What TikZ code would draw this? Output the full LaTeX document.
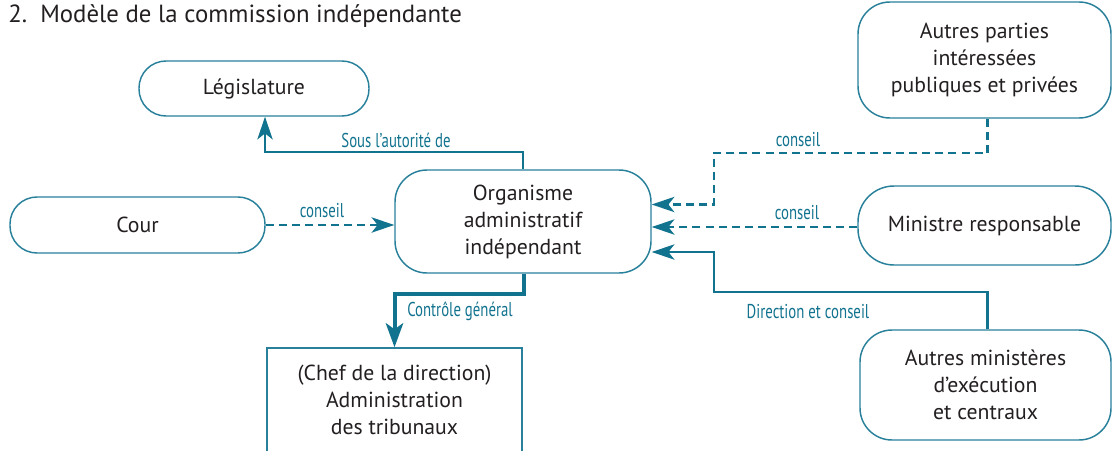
\documentclass[tikz,border=0pt]{standalone}
\usepackage{fontspec}
\setmainfont{PT Sans}
\newfontfamily\condfont{PT Sans}[FakeStretch=0.74]
\usetikzlibrary{arrows.meta,calc}
\definecolor{teal}{RGB}{18,115,143}
\definecolor{boxteal}{RGB}{40,128,155}
\definecolor{txt}{RGB}{35,31,32}
\tikzset{
  bx/.style={draw=boxteal, line width=1.1pt, align=center, text=txt, font=\fontsize{16.3}{20.3}\selectfont, inner sep=0pt},
  conn/.style={draw=teal, line width=1.6pt, -{Stealth[length=17pt,width=11.5pt,inset=4.5pt]}},
  dconn/.style={conn, dash pattern=on 6pt off 3.8pt},
  lbl/.style={text=teal, font=\condfont\fontsize{15}{17}\selectfont, inner sep=0pt}
}
\begin{document}
\begin{tikzpicture}[x=0.75pt,y=-0.75pt]
\clip (0,0) rectangle (1113,450);
\useasboundingbox (0,0) rectangle (1113,450);
\node[anchor=base west, text=txt, font=\fontsize{18.6}{22}\selectfont, inner sep=0pt] (title) at (8,22) {2.\ \ Modèle de la commission indépendante};

\node[bx, minimum width=230*0.75pt, minimum height=55*0.75pt, rounded corners=27*0.75pt] (leg) at (254,88.5) {Législature};
\node[bx, minimum width=255*0.75pt, minimum height=56*0.75pt, rounded corners=27*0.75pt] (cour) at (137.5,225) {Cour};
\node[bx, minimum width=256*0.75pt, minimum height=103*0.75pt, rounded corners=32*0.75pt] (org) at (523,221.5) {Organisme\\administratif\\indépendant};
\node[bx, rectangle, minimum width=255*0.75pt, minimum height=120*0.75pt] (chef) at (394.5,408) {};
\node[text=txt, font=\fontsize{16.3}{20.3}\selectfont, align=center, inner sep=0pt] (cheft) at (394.5,400) {(Chef de la direction)\\Administration\\des tribunaux};
\node[bx, minimum width=253*0.75pt, minimum height=116*0.75pt, rounded corners=32*0.75pt] (ap) at (984.5,60) {Autres parties\\intéressées\\publiques et privées};
\node[bx, minimum width=253*0.75pt, minimum height=79*0.75pt, rounded corners=36*0.75pt] (min) at (984.5,225.5) {Ministre responsable};
\node[bx, minimum width=251*0.75pt, minimum height=110*0.75pt, rounded corners=32*0.75pt] (am) at (985.5,385) {Autres ministères\\d’exécution\\et centraux};

% connectors
\draw[conn] (org.north) -- ++(0,-17) -| ([xshift=11*0.75pt]leg.south);
\draw[dconn] (cour.east) -- (org.west |- cour.east);
\coordinate (b1) at (714,153);
\draw[dconn] ([xshift=3*0.75pt]ap.south) |- (b1) |- ([yshift=17*0.75pt]org.east);
\coordinate (mw) at ([yshift=-1.5*0.75pt]min.west);
\draw[dconn] (mw) -- (org.east |- mw);
\coordinate (b2) at (714,292);
\draw[conn] ([xshift=2*0.75pt]am.north) |- (b2) |- ([yshift=-30.5*0.75pt]org.east);
\draw[conn, line width=3pt, -{Stealth[length=18pt,width=13pt,inset=4.5pt]}] ([xshift=1*0.75pt]org.south) -- ++(0,20) -| (chef.north);

% labels
\node[lbl] (l1) at (396,140) {Sous l’autorité de};
\node[lbl] (l2) at (322,211) {conseil};
\node[lbl] (l3) at (798,140) {conseil};
\node[lbl] (l4) at (797,213) {conseil};
\node[lbl] (l5) at (808,312) {Direction et conseil};
\node[lbl] (l6) at (460,311) {Contrôle général};
\end{tikzpicture}
\end{document}
